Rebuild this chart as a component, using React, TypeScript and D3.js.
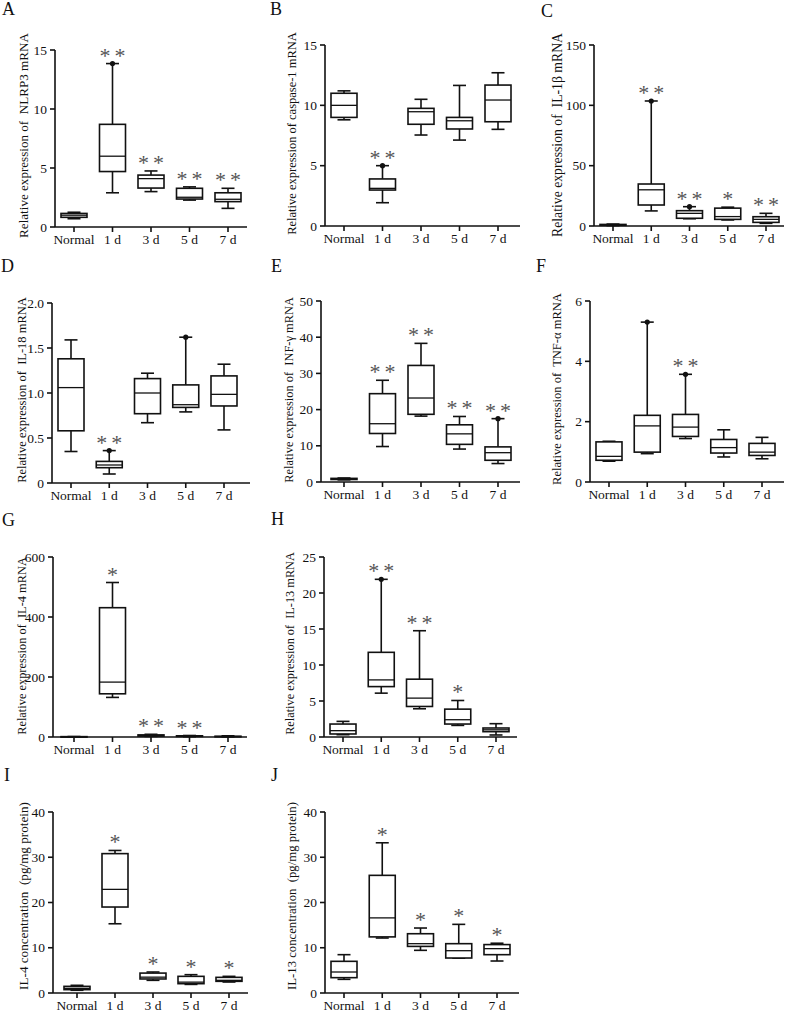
import React, { useLayoutEffect, useRef, useState } from "react";
import * as d3 from "d3";

const categories = ["Normal", "1 d", "3 d", "5 d", "7 d"];

// [min, q1, median, q3, max]
const nlrp3 = [[0.7, 0.82, 1.0, 1.15, 1.25], [2.9, 4.7, 6.0, 8.7, 13.85], [3.0, 3.3, 4.1, 4.4, 4.75], [2.28, 2.37, 2.52, 3.28, 3.4], [1.58, 2.15, 2.35, 2.9, 3.28]];
const caspase1 = [[8.8, 9.0, 10.0, 11.0, 11.2], [1.93, 2.98, 3.12, 3.9, 5.0], [7.54, 8.43, 9.47, 9.75, 10.5], [7.12, 8.04, 8.72, 9.0, 11.65], [8.01, 8.64, 10.44, 11.68, 12.7]];
const il1b = [[0.3, 0.6, 1.0, 1.3, 1.6], [12.5, 17.4, 30.0, 34.8, 103.6], [6.0, 6.4, 10.5, 12.7, 16.0], [5.0, 5.5, 7.8, 14.8, 15.6], [2.2, 3.0, 5.5, 7.7, 10.5]];
const il18 = [[0.35, 0.58, 1.06, 1.38, 1.59], [0.1, 0.17, 0.2, 0.24, 0.36], [0.67, 0.77, 1.0, 1.16, 1.22], [0.79, 0.84, 0.87, 1.09, 1.62], [0.59, 0.856, 0.985, 1.19, 1.32]];
const infg = [[0.6, 0.7, 0.85, 1.0, 1.1], [9.8, 13.4, 16.1, 24.4, 28.1], [18.2, 18.7, 23.2, 32.2, 38.3], [9.1, 10.4, 13.3, 15.8, 18.1], [5.1, 6.0, 8.1, 9.7, 17.5]];
const tnfa = [[0.69, 0.72, 0.85, 1.33, 1.35], [0.94, 0.99, 1.86, 2.21, 5.3], [1.44, 1.51, 1.82, 2.24, 3.57], [0.83, 0.96, 1.14, 1.41, 1.73], [0.77, 0.88, 0.99, 1.28, 1.48]];
const il4mrna = [[0.5, 0.8, 1.0, 1.2, 1.5], [132, 144, 183, 431, 515], [2, 3, 5, 7, 9], [1, 2, 3, 4, 5], [0.5, 1, 1.5, 2.5, 4]];
const il13mrna = [[0.32, 0.42, 0.88, 1.8, 2.17], [6.09, 7.0, 7.93, 11.76, 21.9], [3.92, 4.24, 5.4, 8.03, 14.76], [1.61, 1.8, 2.4, 3.87, 5.07], [0.28, 0.74, 1.0, 1.25, 1.85]];
const il4conc = [[0.6, 0.74, 1.03, 1.47, 1.7], [15.3, 19.0, 22.9, 30.8, 31.5], [2.8, 3.1, 3.5, 4.4, 4.64], [1.9, 2.06, 2.4, 3.68, 4.05], [2.43, 2.58, 2.8, 3.46, 3.68]];
const il13conc = [[3.02, 3.39, 4.64, 7.0, 8.47], [12.15, 12.4, 16.6, 26.0, 33.2], [9.43, 10.3, 10.9, 13.1, 14.36], [7.7, 7.73, 9.35, 10.9, 15.17], [7.07, 8.47, 9.8, 10.7, 11.0]];

// significance marks per category
const starsA = ["", "**", "**", "**", "**"];
const starsB = ["", "**", "", "", ""];
const starsC = ["", "**", "**", "*", "**"];
const starsD = ["", "**", "", "", ""];
const starsE = ["", "**", "**", "**", "**"];
const starsF = ["", "", "**", "", ""];
const starsG = ["", "*", "**", "**", ""];
const starsH = ["", "**", "**", "*", ""];
const starsI = ["", "*", "*", "*", "*"];
const starsJ = ["", "*", "*", "*", "*"];

// max value drawn as a dot
const dotsA = [false, true, false, false, false];
const dotsB = [false, true, false, false, false];
const dotsC = [false, true, true, false, false];
const dotsD = [false, true, false, true, false];
const dotsE = [false, false, false, false, true];
const dotsF = [false, true, true, false, false];
const dotsG = [false, false, false, false, false];
const dotsH = [false, true, false, false, false];
const dotsI = [false, false, false, false, false];
const dotsJ = [false, false, false, false, false];

const ticksA = [0, 5, 10, 15];
const ticksC = [0, 50, 100, 150];
const ticksD = [0, 0.5, 1.0, 1.5, 2.0];
const ticksE = [0, 10, 20, 30, 40, 50];
const ticksF = [0, 2, 4, 6];
const ticksG = [0, 200, 400, 600];
const ticksH = [0, 5, 10, 15, 20, 25];
const ticksI = [0, 10, 20, 30, 40];

// layout: labLen/labC = measured span and centre of the rotated axis title
const panels = [
  { letter: "A", lx: 2, ly: 15, label: "Relative expression of  NLRP3 mRNA", labX: 23, labC: 135.5, labLen: 205, data: nlrp3, stars: starsA, dots: dotsA, ticks: ticksA, fmt: "d", ax: 55, xe: 247, t0: 74, t1: 228, y0: 227, yt: 50 },
  { letter: "B", lx: 270, ly: 15, label: "Relative expression of caspase-1 mRNA", labX: 292, labC: 133.5, labLen: 203, data: caspase1, stars: starsB, dots: dotsB, ticks: ticksA, fmt: "d", ax: 325, xe: 520, t0: 344, t1: 498, y0: 226, yt: 45 },
  { letter: "C", lx: 541, ly: 17, label: "Relative expression of  IL-1\u03B2 mRNA", labX: 557, labC: 135, labLen: 204, data: il1b, stars: starsC, dots: dotsC, ticks: ticksC, fmt: "d", ax: 594, xe: 784, t0: 613, t1: 766, y0: 226, yt: 45 },
  { letter: "D", lx: 1, ly: 272, label: "Relative expression of  IL-18 mRNA", labX: 22, labC: 390, labLen: 186, data: il18, stars: starsD, dots: dotsD, ticks: ticksD, fmt: ".1f", ax: 52, xe: 250, t0: 71, t1: 224, y0: 483, yt: 303 },
  { letter: "E", lx: 271, ly: 272, label: "Relative expression of  INF-\u03B3 mRNA", labX: 289, labC: 390, labLen: 186, data: infg, stars: starsE, dots: dotsE, ticks: ticksE, fmt: "d", ax: 321, xe: 520, t0: 344, t1: 498, y0: 482, yt: 301 },
  { letter: "F", lx: 536, ly: 272, label: "Relative expression of  TNF-\u03B1 mRNA", labX: 557, labC: 389, labLen: 192, data: tnfa, stars: starsF, dots: dotsF, ticks: ticksF, fmt: "d", ax: 590, xe: 784, t0: 609, t1: 762, y0: 482, yt: 301 },
  { letter: "G", lx: 2, ly: 526, label: "Relative expression of  IL-4 mRNA", labX: 22, labC: 646, labLen: 178, data: il4mrna, stars: starsG, dots: dotsG, ticks: ticksG, fmt: "d", ax: 53, xe: 247, t0: 74, t1: 228, y0: 737, yt: 557 },
  { letter: "H", lx: 271, ly: 525, label: "Relative expression of  IL-13 mRNA", labX: 290, labC: 643.5, labLen: 183, data: il13mrna, stars: starsH, dots: dotsH, ticks: ticksH, fmt: "d", ax: 324, xe: 517, t0: 343, t1: 496, y0: 737, yt: 557 },
  { letter: "I", lx: 4, ly: 781, label: "IL-4 concentration  (pg/mg protein)", labX: 23, labC: 896, labLen: 188, data: il4conc, stars: starsI, dots: dotsI, ticks: ticksI, fmt: "d", ax: 53, xe: 248, t0: 77, t1: 229, y0: 993, yt: 812 },
  { letter: "J", lx: 271, ly: 781, label: "IL-13 concentration  (pg/mg protein)", labX: 292, labC: 896, labLen: 188, data: il13conc, stars: starsJ, dots: dotsJ, ticks: ticksI, fmt: "d", ax: 325, xe: 519, t0: 344, t1: 497, y0: 993, yt: 812 },
];

const FONT = "'Liberation Serif', 'Times New Roman', serif";
const INK = "#111";
const SW = 1.6;
const BOXW = 26;
const CAPW = 13;

function FitLabel({ x, y, text, len }: { x: number; y: number; text: string; len: number }) {
  const ref = useRef<SVGTextElement>(null);
  const [fs, setFs] = useState(13);
  useLayoutEffect(() => {
    const el = ref.current;
    if (!el) return;
    const w = el.getComputedTextLength();
    if (w > 0) {
      const next = Math.max(10, Math.min(16, (13 * len) / w));
      if (Math.abs(next - fs) > 0.05) setFs(next);
    }
  }, []);
  return (
    <text
      ref={ref}
      transform={`translate(${x},${y}) rotate(-90)`}
      textAnchor="middle"
      dominantBaseline="central"
      fontFamily={FONT}
      fontSize={fs}
      fill={INK}
      style={{ whiteSpace: "pre" }}
    >{text}</text>
  );
}

function Panel({ p }: { p: any }) {
  const ticks: number[] = p.ticks;
  const dmax = ticks[ticks.length - 1];
  const y = d3.scaleLinear().domain([0, dmax]).range([p.y0, p.yt]);
  const x = d3.scalePoint<string>().domain(categories).range([p.t0, p.t1]);
  const fmt = d3.format(p.fmt);
  return (
    <g>
      <text x={p.lx} y={p.ly} fontFamily={FONT} fontSize={18} fill={INK}>{p.letter}</text>
      <FitLabel x={p.labX} y={p.labC} text={p.label} len={p.labLen} />
      {/* y axis */}
      <line x1={p.ax} x2={p.ax} y1={p.yt} y2={p.y0} stroke={INK} strokeWidth={SW} />
      {ticks.map((t) => (
        <g key={t}>
          <line x1={p.ax - 5} x2={p.ax} y1={y(t)} y2={y(t)} stroke={INK} strokeWidth={SW} />
          <text x={p.ax - 8} y={y(t)} textAnchor="end" dominantBaseline="central" fontFamily={FONT} fontSize={13.5} fill={INK}>{t === 0 ? "0" : fmt(t)}</text>
        </g>
      ))}
      {/* x axis */}
      <line x1={p.ax} x2={p.xe} y1={p.y0} y2={p.y0} stroke={INK} strokeWidth={SW} />
      {categories.map((c) => (
        <g key={c}>
          <line x1={x(c)} x2={x(c)} y1={p.y0} y2={p.y0 + 5} stroke={INK} strokeWidth={SW} />
          <text x={x(c)} y={p.y0 + 17} textAnchor="middle" fontFamily={FONT} fontSize={13.5} fill={INK}>{c}</text>
        </g>
      ))}
      {/* boxes */}
      {categories.map((c, i) => {
        const [mn, q1, md, q3, mx] = p.data[i];
        const cx = x(c) as number;
        const stars: string = p.stars[i];
        return (
          <g key={"b" + c}>
            <line x1={cx} x2={cx} y1={y(mx)} y2={y(q3)} stroke={INK} strokeWidth={SW} />
            <line x1={cx} x2={cx} y1={y(q1)} y2={y(mn)} stroke={INK} strokeWidth={SW} />
            <line x1={cx - CAPW / 2} x2={cx + CAPW / 2} y1={y(mx)} y2={y(mx)} stroke={INK} strokeWidth={SW} />
            <line x1={cx - CAPW / 2} x2={cx + CAPW / 2} y1={y(mn)} y2={y(mn)} stroke={INK} strokeWidth={SW} />
            <rect x={cx - BOXW / 2} y={y(q3)} width={BOXW} height={Math.max(0.5, y(q1) - y(q3))} fill="#fff" stroke={INK} strokeWidth={SW} />
            <line x1={cx - BOXW / 2} x2={cx + BOXW / 2} y1={y(md)} y2={y(md)} stroke={INK} strokeWidth={1.3} />
            {p.dots[i] && <circle cx={cx} cy={y(mx)} r={2.6} fill={INK} />}
            {stars.split("").map((s, k) => (
              <text key={k} x={cx + (k - (stars.length - 1) / 2) * 15} y={y(mx) - 1} textAnchor="middle" fontFamily={FONT} fontSize={22} fill="#555">{s}</text>
            ))}
          </g>
        );
      })}
    </g>
  );
}

export default function App() {
  return (
    <svg width={787} height={1013} style={{ position: "absolute", left: 0, top: 0, background: "#fff" }}>
      <rect width={787} height={1013} fill="#fff" />
      {panels.map((p) => <Panel key={p.letter} p={p} />)}
    </svg>
  );
}
